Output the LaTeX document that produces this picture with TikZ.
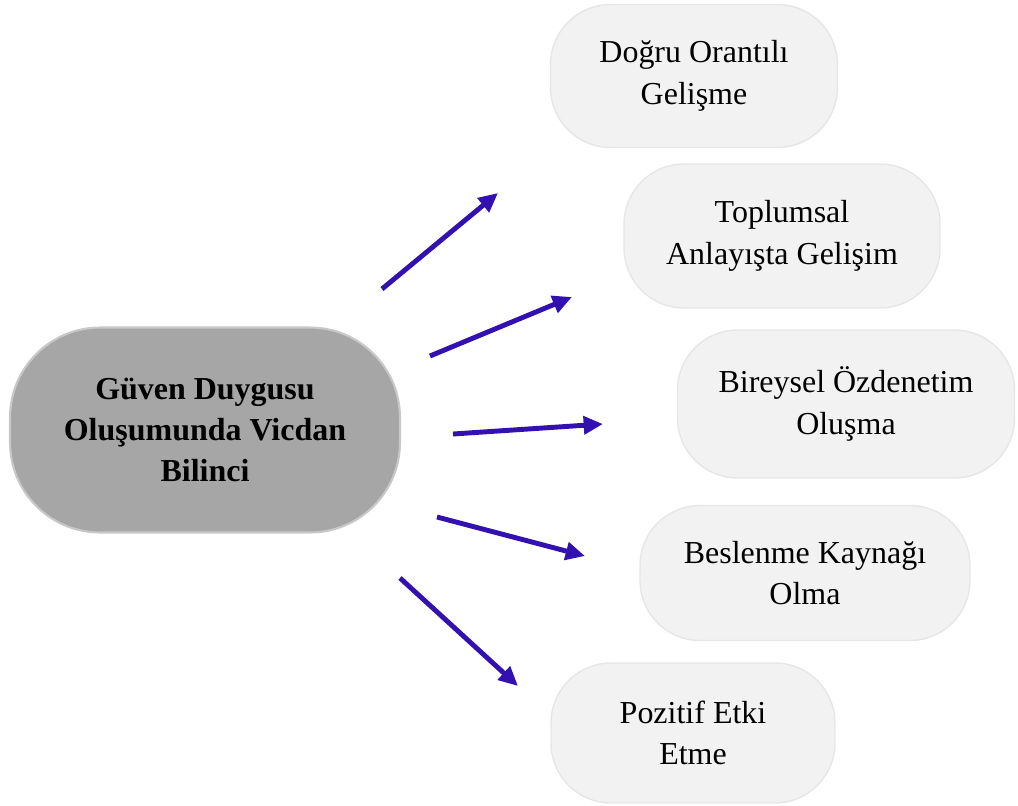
\documentclass[tikz,border=0pt]{standalone}
\usepackage{fontspec}
\setmainfont{Liberation Serif}
\usetikzlibrary{arrows.meta}

\definecolor{maingray}{HTML}{A6A6A6}
\definecolor{edgegray}{HTML}{C8C8C8}
\definecolor{boxgray}{HTML}{F2F2F2}
\definecolor{boxedge}{HTML}{E6E6E6}
\definecolor{arrowblue}{HTML}{3311B0}

\begin{document}
\begin{tikzpicture}[x=0.02cm, y=-0.02cm,
    >={Triangle[length=11pt, width=10pt]},
    bb/.style={%
      rectangle, rounded corners=1.2cm, draw=boxedge, thick, fill=boxgray,
      align=center, inner sep=4pt,
      font=\fontsize{18.2}{23.6}\selectfont
    },
    hub/.style={%
      rectangle, rounded corners=1.8cm, draw=edgegray, line width=1.2pt, fill=maingray,
      align=center, inner sep=4pt,
      font=\fontsize{18.2}{23.2}\selectfont\bfseries
    },
    link/.style={->, draw=arrowblue, line width=2.8pt}
]
    \useasboundingbox (0,0) rectangle (1018,805);

    \node[hub, minimum width=7.8cm, minimum height=4.1cm] (0) at (205,430)
      {Güven Duygusu\\Oluşumunda Vicdan\\Bilinci};

    \node[bb, minimum width=5.74cm, minimum height=2.86cm] (1) at (694,76)  {Doğru Orantılı\\Gelişme};
    \node[bb, minimum width=6.32cm, minimum height=2.88cm] (2) at (782,236) {Toplumsal\\Anlayışta Gelişim};
    \node[bb, minimum width=6.74cm, minimum height=2.96cm] (3) at (846,404) {Bireysel Özdenetim\\Oluşma};
    \node[bb, minimum width=6.60cm, minimum height=2.70cm] (4) at (805,573) {Beslenme Kaynağı\\Olma};
    \node[bb, minimum width=5.68cm, minimum height=2.80cm] (5) at (693,733) {Pozitif Etki\\Etme};

    % arrow ends
    \coordinate (s1) at (382,289); \coordinate (e1) at (498,193);
    \coordinate (s2) at (430,356); \coordinate (e2) at (572,297);
    \coordinate (s3) at (453,434); \coordinate (e3) at (603,424);
    \coordinate (s4) at (437,517); \coordinate (e4) at (585,556);
    \coordinate (s5) at (400,578); \coordinate (e5) at (518,686);

    \path (s1) edge[link] (e1)
          (s2) edge[link] (e2)
          (s3) edge[link] (e3)
          (s4) edge[link] (e4)
          (s5) edge[link] (e5)
    ;

\end{tikzpicture}
\end{document}
